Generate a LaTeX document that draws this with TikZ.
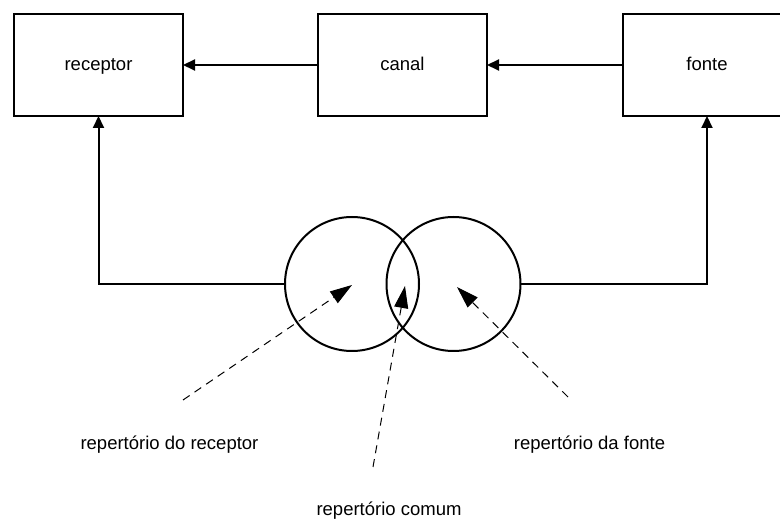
\documentclass[tikz,border=0pt]{standalone}
\usepackage{fontspec}
\setmainfont{Liberation Sans}
\usetikzlibrary{arrows.meta}
\begin{document}
\begin{tikzpicture}[x=1pt,y=-1pt,
 box/.style={draw,line width=2pt,minimum width=169pt,minimum height=102pt,inner sep=0pt,outer sep=0pt,
   font=\fontsize{18.5}{22}\selectfont,text height=14pt,text depth=2pt},
 flow/.style={line width=2pt,-{Triangle[length=12pt,width=11pt]}},
 ring/.style={draw,line width=2pt,circle,minimum size=134pt,inner sep=0pt,outer sep=0pt},
 hint/.style={line width=1pt,dash pattern=on 8pt off 6pt,-{Triangle[length=22pt,width=14pt]}},
 lab/.style={font=\fontsize{18.5}{22}\selectfont,inner sep=0pt,anchor=base}]
\useasboundingbox (0,0) rectangle (780,521);
\fill[white] (0,0) rectangle (780,521);
\node[box] (receptor) at (98.5,65) {receptor};
\node[box] (canal) at (402.5,65) {canal};
\node[box] (fonte) at (707,65) {fonte};
\node[ring] (ringL) at (352,284) {};
\node[ring] (ringR) at (453.5,284) {};
\draw[flow] (canal) -- (receptor);
\draw[flow] (fonte) -- (canal);
\draw[flow] (ringL.west) -| (receptor.south);
\draw[flow] (ringR.east) -| (fonte.south);
\coordinate (dL) at (183,400);
\coordinate (tL) at (352,285);
\coordinate (dC) at (373,467);
\coordinate (tC) at (405,286);
\coordinate (dR) at (568,397);
\coordinate (tR) at (457,287);
\draw[hint] (dL) -- (tL);
\draw[hint] (dC) -- (tC);
\draw[hint] (dR) -- (tR);
\node[lab] (labL) at (169.5,450) {repertório do receptor};
\node[lab] (labR) at (589.5,450) {repertório da fonte};
\node[lab] (labC) at (389,515) {repertório comum};
\end{tikzpicture}
\end{document}
